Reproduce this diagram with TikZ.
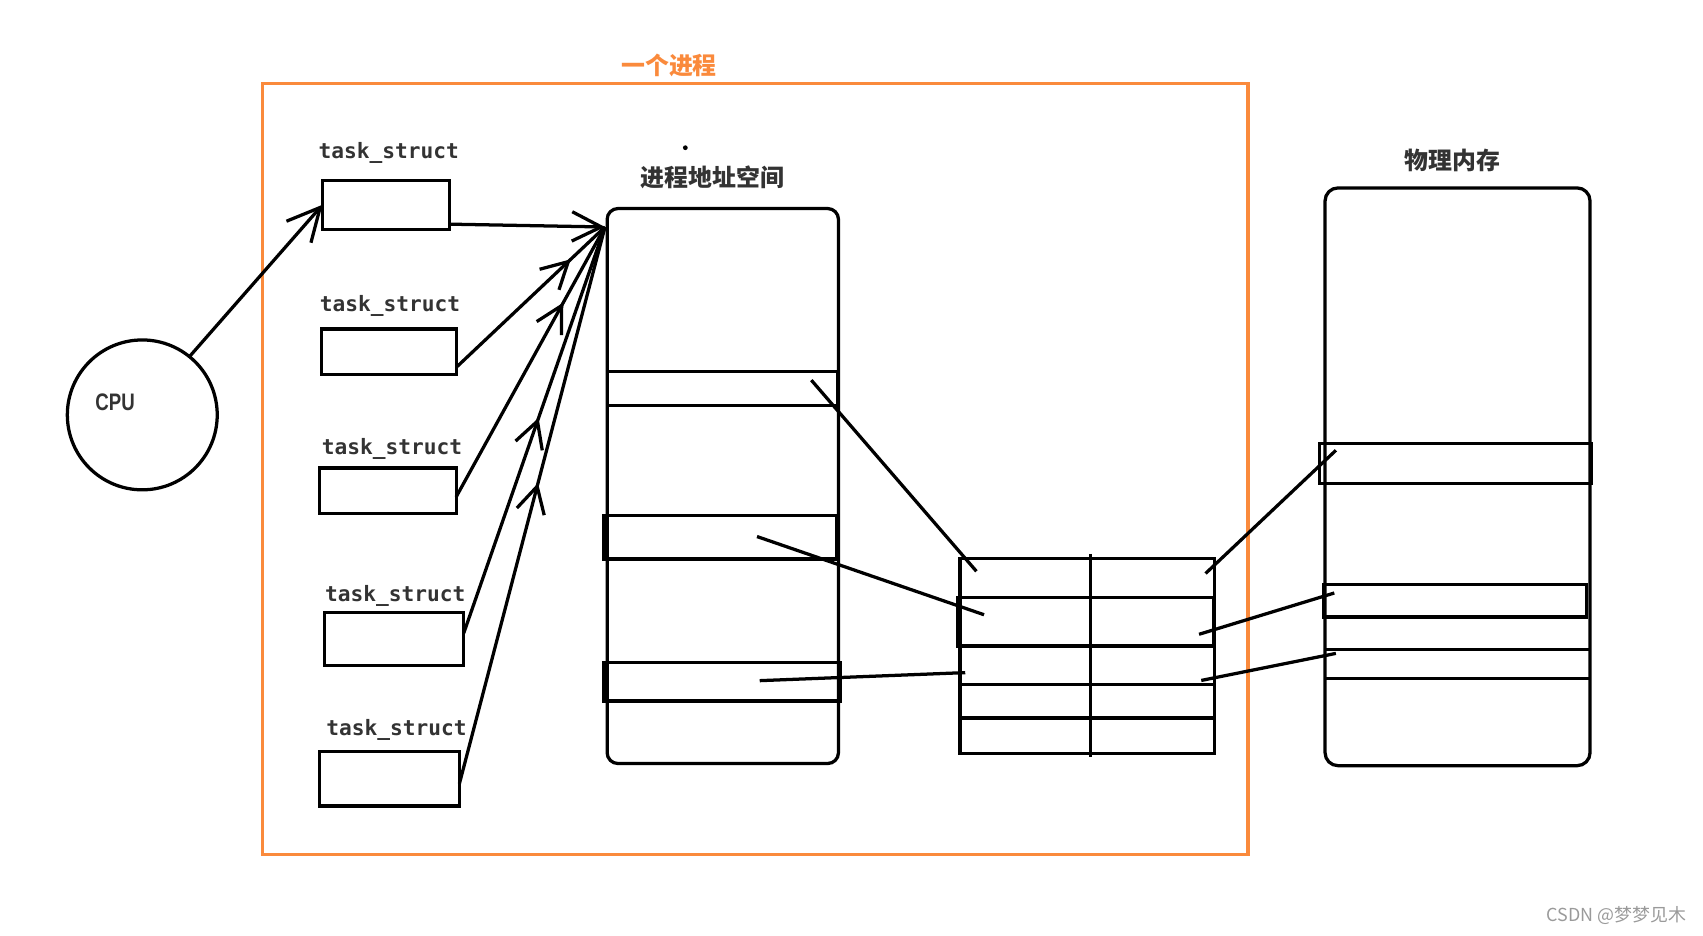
\documentclass[tikz,border=0pt]{standalone}
\usepackage{fontspec}
\usepackage{graphicx}
\usetikzlibrary{arrows.meta,decorations.markings}
\newfontfamily\cjk{Noto Sans CJK SC}
\newfontfamily\tsfont{DejaVu Sans Mono}
\newfontfamily\cpufont{Liberation Sans}
\definecolor{procorange}{HTML}{FA8A3C}
\definecolor{txtgray}{HTML}{333333}
\definecolor{markgray}{HTML}{9A9A9A}

\begin{document}
\begin{tikzpicture}[x=1pt,y=-1pt,
    line width=3pt,
    box/.style={draw,inner sep=0pt,outer sep=0pt},
    tslabel/.style={inner sep=0pt,text=txtgray,font=\tsfont\bfseries\fontsize{19.5pt}{20pt}\selectfont},
    cjklabel/.style={inner sep=0pt,text=txtgray,font=\cjk\bfseries\fontsize{22pt}{24pt}\selectfont},
    hand/.style={-{Straight Barb[length=#1pt,width=#1pt]}},
    midbarb/.style={postaction={decorate,decoration={markings,
        mark=at position #1 with {\arrow{Straight Barb[length=24pt,width=26pt]}}}}}]
    \useasboundingbox (0,0) rectangle (1568,861);
    % the process frame
    \draw[procorange,line width=3pt] (242,77) rectangle (1149,787);
    \node[cjklabel,text=procorange] (proc) at (616,60) {一个进程};
    % cpu
    \node[box,circle,minimum size=138pt] (cpu) at (131,382) {};
    \node[inner sep=0pt,text=txtgray,font=\cpufont\bfseries\fontsize{22pt}{24pt}\selectfont] (cputxt) at (106,370) {\scalebox{0.78}[1]{CPU}};
    % task_structs
    \node[box,minimum width=117pt,minimum height=45pt] (ts1) at (355.5,188.5) {};
    \node[box,minimum width=124pt,minimum height=42pt] (ts2) at (358,324) {};
    \node[box,minimum width=126pt,minimum height=42pt] (ts3) at (357,452) {};
    \node[box,minimum width=128pt,minimum height=49pt] (ts4) at (363,588.5) {};
    \node[box,minimum width=129pt,minimum height=50pt] (ts5) at (358.5,717) {};
    \node[tslabel] (l1) at (358,141) {task\_struct};
    \node[tslabel] (l2) at (359,282) {task\_struct};
    \node[tslabel] (l3) at (361,413) {task\_struct};
    \node[tslabel] (l4) at (364,549) {task\_struct};
    \node[tslabel] (l5) at (365,672) {task\_struct};
    % address space
    \node[box,rounded corners=10pt,minimum width=213pt,minimum height=511pt] (vas) at (665.5,447.5) {};
    \node[cjklabel] (vaslabel) at (656,163) {进程地址空间};
    \fill (631,136) circle (2.2pt);
    \draw (559,342) rectangle (771,373.5);
    \draw[line width=3.3pt] (556,474.5) rectangle (770,514.5);
    \draw[line width=3.3pt] (556,610) rectangle (774,645.5);
    % page table
    \draw (884,514) rectangle (1118,694);
    \draw (1004,510) -- (1004,697);
    \draw[line width=3.4pt] (882,550) rectangle (1118,595);
    \draw (884,630) -- (1118,630); \draw (884,661) -- (1118,661);
    % physical memory
    \node[box,rounded corners=12pt,minimum width=244pt,minimum height=532pt] (pmem) at (1342,439) {};
    \node[cjklabel] (pmemlabel) at (1337,148) {物理内存};
    \draw (1215,408.5) rectangle (1465.5,445);
    \draw (1219,538) rectangle (1461,568);
    \draw (1220,598) -- (1464,598); \draw (1220,625) -- (1464,625);
    % links
    \coordinate (hub) at (557,209);
    \draw[hand=30] (cpu.51) -- (ts1.west);
    \draw[hand=27] (ts1.-17) -- (hub);
    \draw[midbarb=0.77] (ts2.-13) -- (hub);
    \draw[midbarb=0.72] (ts3.-5) -- (hub);
    \draw[midbarb=0.53] (ts4.5) -- (hub);
    \draw[midbarb=0.54] (ts5.-4) -- (hub);
    \coordinate (va1) at (747,350);   \coordinate (pt1) at (899,526);
    \coordinate (va2) at (697,494);   \coordinate (pt2) at (906,566);
    \coordinate (va3) at (699.5,626.7); \coordinate (pt3) at (888.7,619.3);
    \coordinate (pt4) at (1110,528);  \coordinate (pm1) at (1230,414.6);
    \coordinate (pt5) at (1104,584);  \coordinate (pm2) at (1228.5,546);
    \coordinate (pt6) at (1106,626.5); \coordinate (pm3) at (1230,601.6);
    \draw (va1) -- (pt1); \draw (va2) -- (pt2); \draw (va3) -- (pt3);
    \draw (pt4) -- (pm1); \draw (pt5) -- (pm2); \draw (pt6) -- (pm3);
    % watermark
    \node[anchor=east,inner sep=0pt,text=markgray,font=\cjk\fontsize{16.5pt}{18pt}\selectfont] (wm) at (1554,843) {CSDN @梦梦见木};
\end{tikzpicture}
\end{document}
